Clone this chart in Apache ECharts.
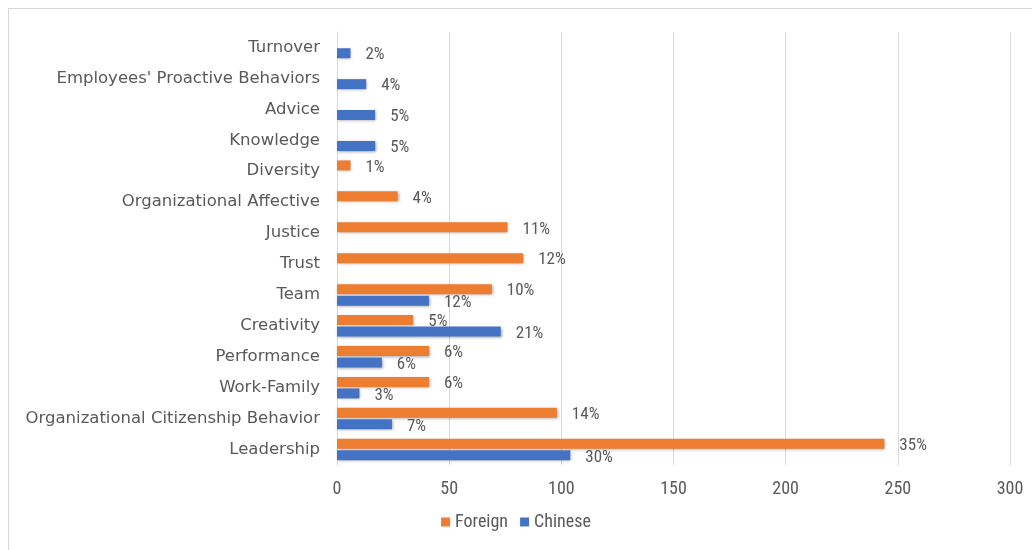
<!DOCTYPE html>
<html><head><meta charset="utf-8">
<script src="https://cdn.jsdelivr.net/npm/echarts@6/dist/echarts.min.js"></script>
<style>
html,body{margin:0;padding:0;background:#fff;}
#frame{position:absolute;left:8px;top:8px;width:1040px;height:560px;border:1px solid #d9d9d9;box-sizing:border-box;}
#chart{position:absolute;left:0;top:0;width:1032px;height:550px;}
</style></head>
<body>
<div id="frame"></div>
<div id="chart"></div>
<script>
const categories = ["Leadership","Organizational Citizenship Behavior","Work-Family","Performance","Creativity","Team","Trust","Justice","Organizational Affective","Diversity","Knowledge","Advice","Employees' Proactive Behaviors","Turnover"];
const foreignValues = [244, 98, 41, 41, 34, 69, 83, 76, 27, 6, null, null, null, null];
const chineseValues = [104, 24.5, 10, 20, 73, 41, null, null, null, null, 17, 17, 13, 6];
const foreignPct = ["35%","14%","6%","6%","5%","10%","12%","11%","4%","1%","","","",""];
const chinesePct = ["30%","7%","3%","6%","21%","12%","","","","","5%","5%","4%","2%"];
const xTicks = [0, 50, 100, 150, 200, 250, 300];

const chart = echarts.init(document.getElementById('chart'));
const shadow = {shadowBlur:3, shadowColor:'rgba(0,0,0,0.35)', shadowOffsetX:1, shadowOffsetY:1};
const numFont = '"Roboto Condensed", "Liberation Sans Narrow", "Roboto", sans-serif';
const labelStyle = {show:true, position:'right', distance:15, color:'#595959', fontSize:17, fontFamily:numFont, offset:[0,2]};
chart.setOption({
  animation:false,
  grid:{left:337, right:22, top:32, bottom:85, containLabel:false},
  legend:{data:['Foreign','Chinese'], bottom:14, left:'center', itemWidth:9, itemHeight:9, itemGap:12, icon:'rect',
    textStyle:{color:'#595959', fontSize:18, fontFamily:numFont}},
  xAxis:{type:'value', min:xTicks[0], max:xTicks[xTicks.length-1], interval:50,
    axisLine:{show:false}, axisTick:{show:false},
    splitLine:{lineStyle:{color:'#d9d9d9', width:1}},
    axisLabel:{color:'#595959', fontSize:18, margin:15, fontFamily:numFont}},
  yAxis:{type:'category', data:categories,
    axisLine:{show:true, lineStyle:{color:'#d9d9d9'}}, axisTick:{show:false},
    axisLabel:{color:'#595959', fontSize:16.5, margin:17, fontFamily:'"DejaVu Sans", sans-serif'}},
  series:[
    {name:'Foreign', type:'bar', data:foreignValues, barWidth:10, barGap:'15%',
     itemStyle:Object.assign({color:'#ED7D31'}, shadow),
     label:Object.assign({formatter:p=>foreignPct[p.dataIndex]}, labelStyle)},
    {name:'Chinese', type:'bar', data:chineseValues, barWidth:10, barGap:'15%',
     itemStyle:Object.assign({color:'#4472C4'}, shadow),
     label:Object.assign({formatter:p=>chinesePct[p.dataIndex]}, labelStyle)}
  ]
});
</script>
</body></html>
